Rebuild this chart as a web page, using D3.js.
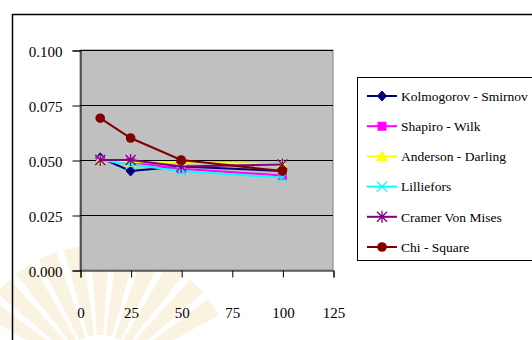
<!DOCTYPE html>
<html>
<head>
<meta charset="utf-8">
<script src="https://cdn.jsdelivr.net/npm/d3@7"></script>
<style>
  html, body { margin: 0; padding: 0; background: #fff; }
  svg { display: block; }
</style>
</head>
<body>
<svg id="chart" width="532" height="340"></svg>
<script>
// Sample sizes and rejection rates per normality test
const sampleSizes = [10, 25, 50, 100];
const seriesNames = ["Kolmogorov - Smirnov", "Shapiro - Wilk", "Anderson - Darling",
                     "Lilliefors", "Cramer Von Mises", "Chi - Square"];
const ksValues  = [0.051, 0.045, 0.047, 0.045];
const swValues  = [0.050, 0.049, 0.046, 0.043];
const adValues  = [0.050, 0.049, 0.049, 0.048];
const lilValues = [0.050, 0.048, 0.045, 0.042];
const cvmValues = [0.050, 0.050, 0.047, 0.048];
const chiValues = [0.069, 0.060, 0.050, 0.045];
const xTicks = [0, 25, 50, 75, 100, 125];
const yTicks = [0, 0.025, 0.05, 0.075, 0.1];

const seriesColors  = ["#000080", "#FF00FF", "#FFFF00", "#00FFFF", "#800080", "#800000"];
const seriesMarkers = ["diamond", "square", "triangle", "cross", "star", "circle"];
const seriesValues  = [ksValues, swValues, adValues, lilValues, cvmValues, chiValues];

const FONT = "'Liberation Serif', 'Times New Roman', Times, serif";

const series = seriesNames.map((name, i) => ({
  name, color: seriesColors[i], marker: seriesMarkers[i],
  points: sampleSizes.map((n, j) => ({ n, v: seriesValues[i][j] }))
}));

const svg = d3.select("#chart");

// faint page emblem behind the chart (bottom left)
const emblem = svg.append("g").attr("transform", "translate(100,380)").attr("opacity", 0.22);
const rayArc = d3.arc().innerRadius(45).outerRadius(135);
d3.range(-5, 6).forEach(k => {
  const a = k * 0.2;
  emblem.append("path")
    .attr("d", rayArc({ startAngle: a - 0.07, endAngle: a + 0.07 }))
    .attr("fill", "#EBCB7A");
});

// outer chart frame
svg.append("rect").attr("x", 12.5).attr("y", 14.5).attr("width", 600).attr("height", 400)
  .attr("fill", "none").attr("stroke", "#000").attr("stroke-width", 1.5);

const x = d3.scaleLinear().domain([0, 125]).range([80, 333]);
const y = d3.scaleLinear().domain([0, 0.1]).range([270, 50]);

// plot area
svg.append("rect").attr("x", x(0)).attr("y", y(0.1))
  .attr("width", x(125) - x(0)).attr("height", y(0) - y(0.1))
  .attr("fill", "#C0C0C0").attr("stroke", "#808080").attr("stroke-width", 1);

// horizontal gridlines
svg.append("g").selectAll("line").data(yTicks.filter(t => t > 0)).join("line")
  .attr("x1", x(0)).attr("x2", x(125))
  .attr("y1", d => Math.round(y(d)) + 0.5).attr("y2", d => Math.round(y(d)) + 0.5)
  .attr("stroke", "#000").attr("stroke-width", 1);

// y axis
const yAxis = svg.append("g").attr("transform", `translate(${x(0) + 0.5},0.5)`)
  .call(d3.axisLeft(y).tickValues(yTicks).tickFormat(d3.format(".3f")).tickSize(8).tickPadding(10));
yAxis.attr("font-family", null).attr("font-size", null);
yAxis.select(".domain").attr("stroke", "#000").attr("stroke-width", 1);
yAxis.selectAll("text").attr("font-size", 15).attr("dy", "0.4em")
  .style("font-family", FONT).attr("fill", "#000");

// x axis (labels sit well below the ticks)
const xAxis = svg.append("g").attr("transform", `translate(0.5,${y(0) + 0.5})`)
  .call(d3.axisBottom(x).tickValues(xTicks).tickFormat(d3.format("d")).tickSize(7).tickPadding(30));
xAxis.attr("font-family", null).attr("font-size", null);
xAxis.select(".domain").attr("stroke", "#000").attr("stroke-width", 1);
xAxis.selectAll("text").attr("font-size", 15)
  .style("font-family", FONT).attr("fill", "#000");

// marker shapes
function drawMarker(g, type, color, cx, cy) {
  const s = 4.5;
  if (type === "diamond") {
    g.append("path").attr("d", `M${cx},${cy - s - 0.5}L${cx + s},${cy}L${cx},${cy + s + 0.5}L${cx - s},${cy}Z`)
      .attr("fill", color).attr("stroke", color);
  } else if (type === "square") {
    g.append("rect").attr("x", cx - 4).attr("y", cy - 4).attr("width", 8).attr("height", 8)
      .attr("fill", color).attr("stroke", color);
  } else if (type === "triangle") {
    g.append("path").attr("d", `M${cx},${cy - 5}L${cx + 5},${cy + 4}L${cx - 5},${cy + 4}Z`)
      .attr("fill", color).attr("stroke", color);
  } else if (type === "cross") {
    g.append("path").attr("d", `M${cx - 5},${cy - 5}L${cx + 5},${cy + 5}M${cx - 5},${cy + 5}L${cx + 5},${cy - 5}`)
      .attr("stroke", color).attr("stroke-width", 1.3).attr("fill", "none");
  } else if (type === "star") {
    g.append("path").attr("d", `M${cx - 5},${cy - 5}L${cx + 5},${cy + 5}M${cx - 5},${cy + 5}L${cx + 5},${cy - 5}M${cx},${cy - 6}L${cx},${cy + 6}`)
      .attr("stroke", color).attr("stroke-width", 1.3).attr("fill", "none");
  } else if (type === "circle") {
    g.append("circle").attr("cx", cx).attr("cy", cy).attr("r", 4.8).attr("fill", color);
  }
}

const line = d3.line().x(d => x(d.n)).y(d => y(d.v));
const plot = svg.append("g");
series.forEach(s => {
  const g = plot.append("g");
  g.append("path").datum(s.points).attr("d", line)
    .attr("fill", "none").attr("stroke", s.color).attr("stroke-width", 2);
  s.points.forEach(p => drawMarker(g, s.marker, s.color, x(p.n), y(p.v)));
});

// legend
const legend = svg.append("g");
legend.append("rect").attr("x", 357.5).attr("y", 77.5).attr("width", 180).attr("height", 183)
  .attr("fill", "#fff").attr("stroke", "#000").attr("stroke-width", 1);
series.forEach((s, i) => {
  const ly = 96 + i * 30.2;
  const g = legend.append("g");
  g.append("line").attr("x1", 367).attr("x2", 397).attr("y1", ly).attr("y2", ly)
    .attr("stroke", s.color).attr("stroke-width", 2);
  drawMarker(g, s.marker, s.color, 382, ly);
  g.append("text").attr("x", 401).attr("y", ly).attr("dy", "0.35em")
    .attr("font-size", 13.5).style("font-family", FONT).attr("fill", "#000").text(s.name);
});
</script>
</body>
</html>
